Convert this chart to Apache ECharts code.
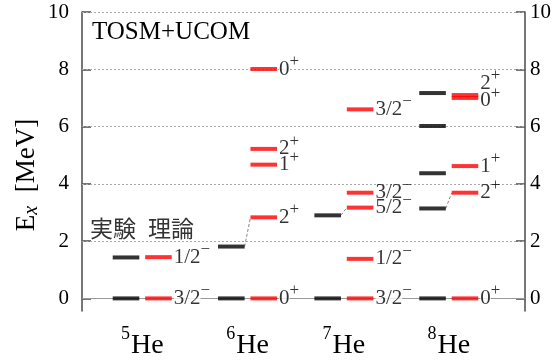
<!DOCTYPE html>
<html>
<head>
<meta charset="utf-8">
<script src="https://cdn.jsdelivr.net/npm/echarts@6/dist/echarts.min.js"></script>
<style>
  html, body { margin: 0; padding: 0; background: #fff; }
  #chart { width: 556px; height: 360px; }
</style>
</head>
<body>
<div id="chart"></div>
<script>
// He isotopes: mass numbers and column centres on the x scale
const massNumbers = ['5', '6', '7', '8'];
const columnX = [1, 2, 2.915, 3.911];

// Experimental excitation energies [MeV]
const expLevels = [
  [0, 1.43],
  [0, 1.81],
  [0, 2.9],
  [0, 3.14, 4.37, 6.02, 7.17]
];

// TOSM+UCOM excitation energies [MeV] with spin and parity
const calcLevels = [
  [0, 1.44],
  [0, 2.83, 4.67, 5.22, 8.01],
  [0, 1.38, 3.17, 3.69, 6.6],
  [0, 3.69, 4.62, 7.0, 7.1]
];
const calcSpins = [
  ['3/2', '1/2'],
  ['0', '2', '1', '2', '0'],
  ['3/2', '1/2', '5/2', '3/2', '3/2'],
  ['0', '2', '1', '0', '2']
];
const calcParities = [
  ['-', '-'],
  ['+', '+', '+', '+', '+'],
  ['-', '-', '-', '-', '-'],
  ['+', '+', '+', '+', '+']
];

// Correspondence between experimental and calculated states: [column, exp E, calc E]
const stateLinks = [
  [1, 1.81, 2.83],
  [2, 2.9, 3.17],
  [3, 3.14, 3.69]
];

const energyTicks = [0, 2, 4, 6, 8, 10];

// ---- layout helpers ----
const SIDE = 0.154;   // offset of exp / calc bars from the column centre
const HALF = 0.126;   // half bar width in x units
const SERIF = '"Liberation Serif", "Times New Roman", serif';

const expData = [];
const calcData = [];
massNumbers.forEach((m, i) => {
  expLevels[i].forEach(e => expData.push([columnX[i] - SIDE, e]));
  calcLevels[i].forEach((e, j) => {
    const item = {
      value: [columnX[i] + SIDE, e],
      spin: calcSpins[i][j],
      parity: calcParities[i][j]
    };
    // the 0+ and 2+ of 8He lie almost on top of each other: split their labels
    if (i === 3 && j === 3) item.label = { offset: [0, 3] };
    if (i === 3 && j === 4) item.label = { offset: [0, -12] };
    calcData.push(item);
  });
});

const linkSeries = stateLinks.map(([i, eExp, eCalc]) => ({
  type: 'line',
  silent: true,
  symbol: 'none',
  z: 2,
  lineStyle: { color: '#888', width: 1, type: [3, 2] },
  data: [[columnX[i] - SIDE + HALF, eExp], [columnX[i] + SIDE - HALF, eCalc]]
}));

const gridLines = energyTicks.map(v => ({
  yAxis: v,
  lineStyle: v === 0
    ? { color: '#999', width: 1, type: 'solid' }
    : { color: '#aaa', width: 1, type: [2, 2] }
}));

// labels sitting on a grid line get a white backing so the line breaks around them
const onGridLine = e => energyTicks.some(t => Math.abs(t - e) < 0.1);

const yAxisFor = (position, margin) => ({
  type: 'value',
  position,
  min: -0.44,
  max: 10,
  axisLine: { show: true, onZero: false, lineStyle: { color: '#555', width: 1.6 } },
  axisTick: { show: true, inside: true, length: 9, customValues: energyTicks,
              lineStyle: { color: '#555', width: 1.6 } },
  axisLabel: { customValues: energyTicks, margin, color: '#000',
               fontFamily: SERIF, fontSize: 21 },
  splitLine: { show: false }
});

const chart = echarts.init(document.getElementById('chart'), null, { renderer: 'canvas' });
chart.setOption({
  animation: false,
  backgroundColor: '#fff',
  grid: { left: 82, right: 31, top: 12, bottom: 46.8, containLabel: false },
  xAxis: {
    type: 'value',
    min: 0.428,
    max: 4.635,
    axisLine: { show: false, onZero: false },
    axisTick: { show: false },
    splitLine: { show: false },
    axisLabel: {
      customValues: columnX,
      margin: 14,
      formatter: v => {
        const i = columnX.findIndex(x => Math.abs(x - v) < 1e-6);
        return '{s|' + massNumbers[i] + '}{h|He}';
      },
      rich: {
        s: { fontFamily: SERIF, fontSize: 18, color: '#000', padding: [0, 1, 24, 0] },
        h: { fontFamily: SERIF, fontSize: 28, color: '#000' }
      }
    }
  },
  yAxis: [yAxisFor('left', 13), yAxisFor('right', 5)],
  graphic: [
    {
      type: 'text', x: 92, y: 32, silent: true,
      style: { text: 'TOSM+UCOM', font: '25px ' + SERIF, fill: '#000', verticalAlign: 'middle' }
    },
    {
      type: 'text', x: 90, y: 228, silent: true,
      style: { text: '実験', font: '23px "Noto Sans CJK JP"', fill: '#333', verticalAlign: 'middle' }
    },
    {
      type: 'text', x: 148, y: 228, silent: true,
      style: { text: '理論', font: '23px "Noto Sans CJK JP"', fill: '#333', verticalAlign: 'middle' }
    },
    {
      type: 'text', x: 27, y: 175, rotation: Math.PI / 2, silent: true,
      style: {
        text: '{e|E}{x|x}{e|  [MeV]}',
        align: 'center', verticalAlign: 'middle',
        rich: {
          e: { fontFamily: SERIF, fontSize: 27, fill: '#000' },
          x: { fontFamily: SERIF, fontSize: 20, fontStyle: 'italic', fill: '#000', padding: [9, 0, 0, 0] }
        }
      }
    }
  ],
  series: [
    {
      type: 'line',
      data: [],
      silent: true,
      z: 1,
      markLine: { silent: true, symbol: 'none', z: 1, label: { show: false },
                  emphasis: { disabled: true }, data: gridLines }
    },
    ...linkSeries,
    {
      type: 'scatter',
      silent: true,
      z: 3,
      symbol: 'rect',
      symbolSize: [26.6, 4],
      itemStyle: { color: '#000' },
      data: expData
    },
    {
      type: 'scatter',
      silent: true,
      z: 4,
      symbol: 'rect',
      symbolSize: [26.6, 4],
      itemStyle: { color: '#f00' },
      data: calcData,
      label: {
        show: true,
        position: 'right',
        distance: 2,
        formatter: p => {
          const key = onGridLine(p.data.value[1]) ? 'g' : 'a';
          return '{' + key + '|' + p.data.spin + '}{s|' + (p.data.parity === '-' ? '\u2212' : '+') + '}';
        },
        rich: {
          a: { fontFamily: SERIF, fontSize: 21, color: '#000', lineHeight: 14 },
          g: { fontFamily: SERIF, fontSize: 21, color: '#000', lineHeight: 14,
               backgroundColor: '#fff' },
          s: { fontFamily: SERIF, fontSize: 17, color: '#000', lineHeight: 10,
               padding: [0, 1, 15, 0] }
        }
      }
    }
  ]
});
</script>
</body>
</html>
